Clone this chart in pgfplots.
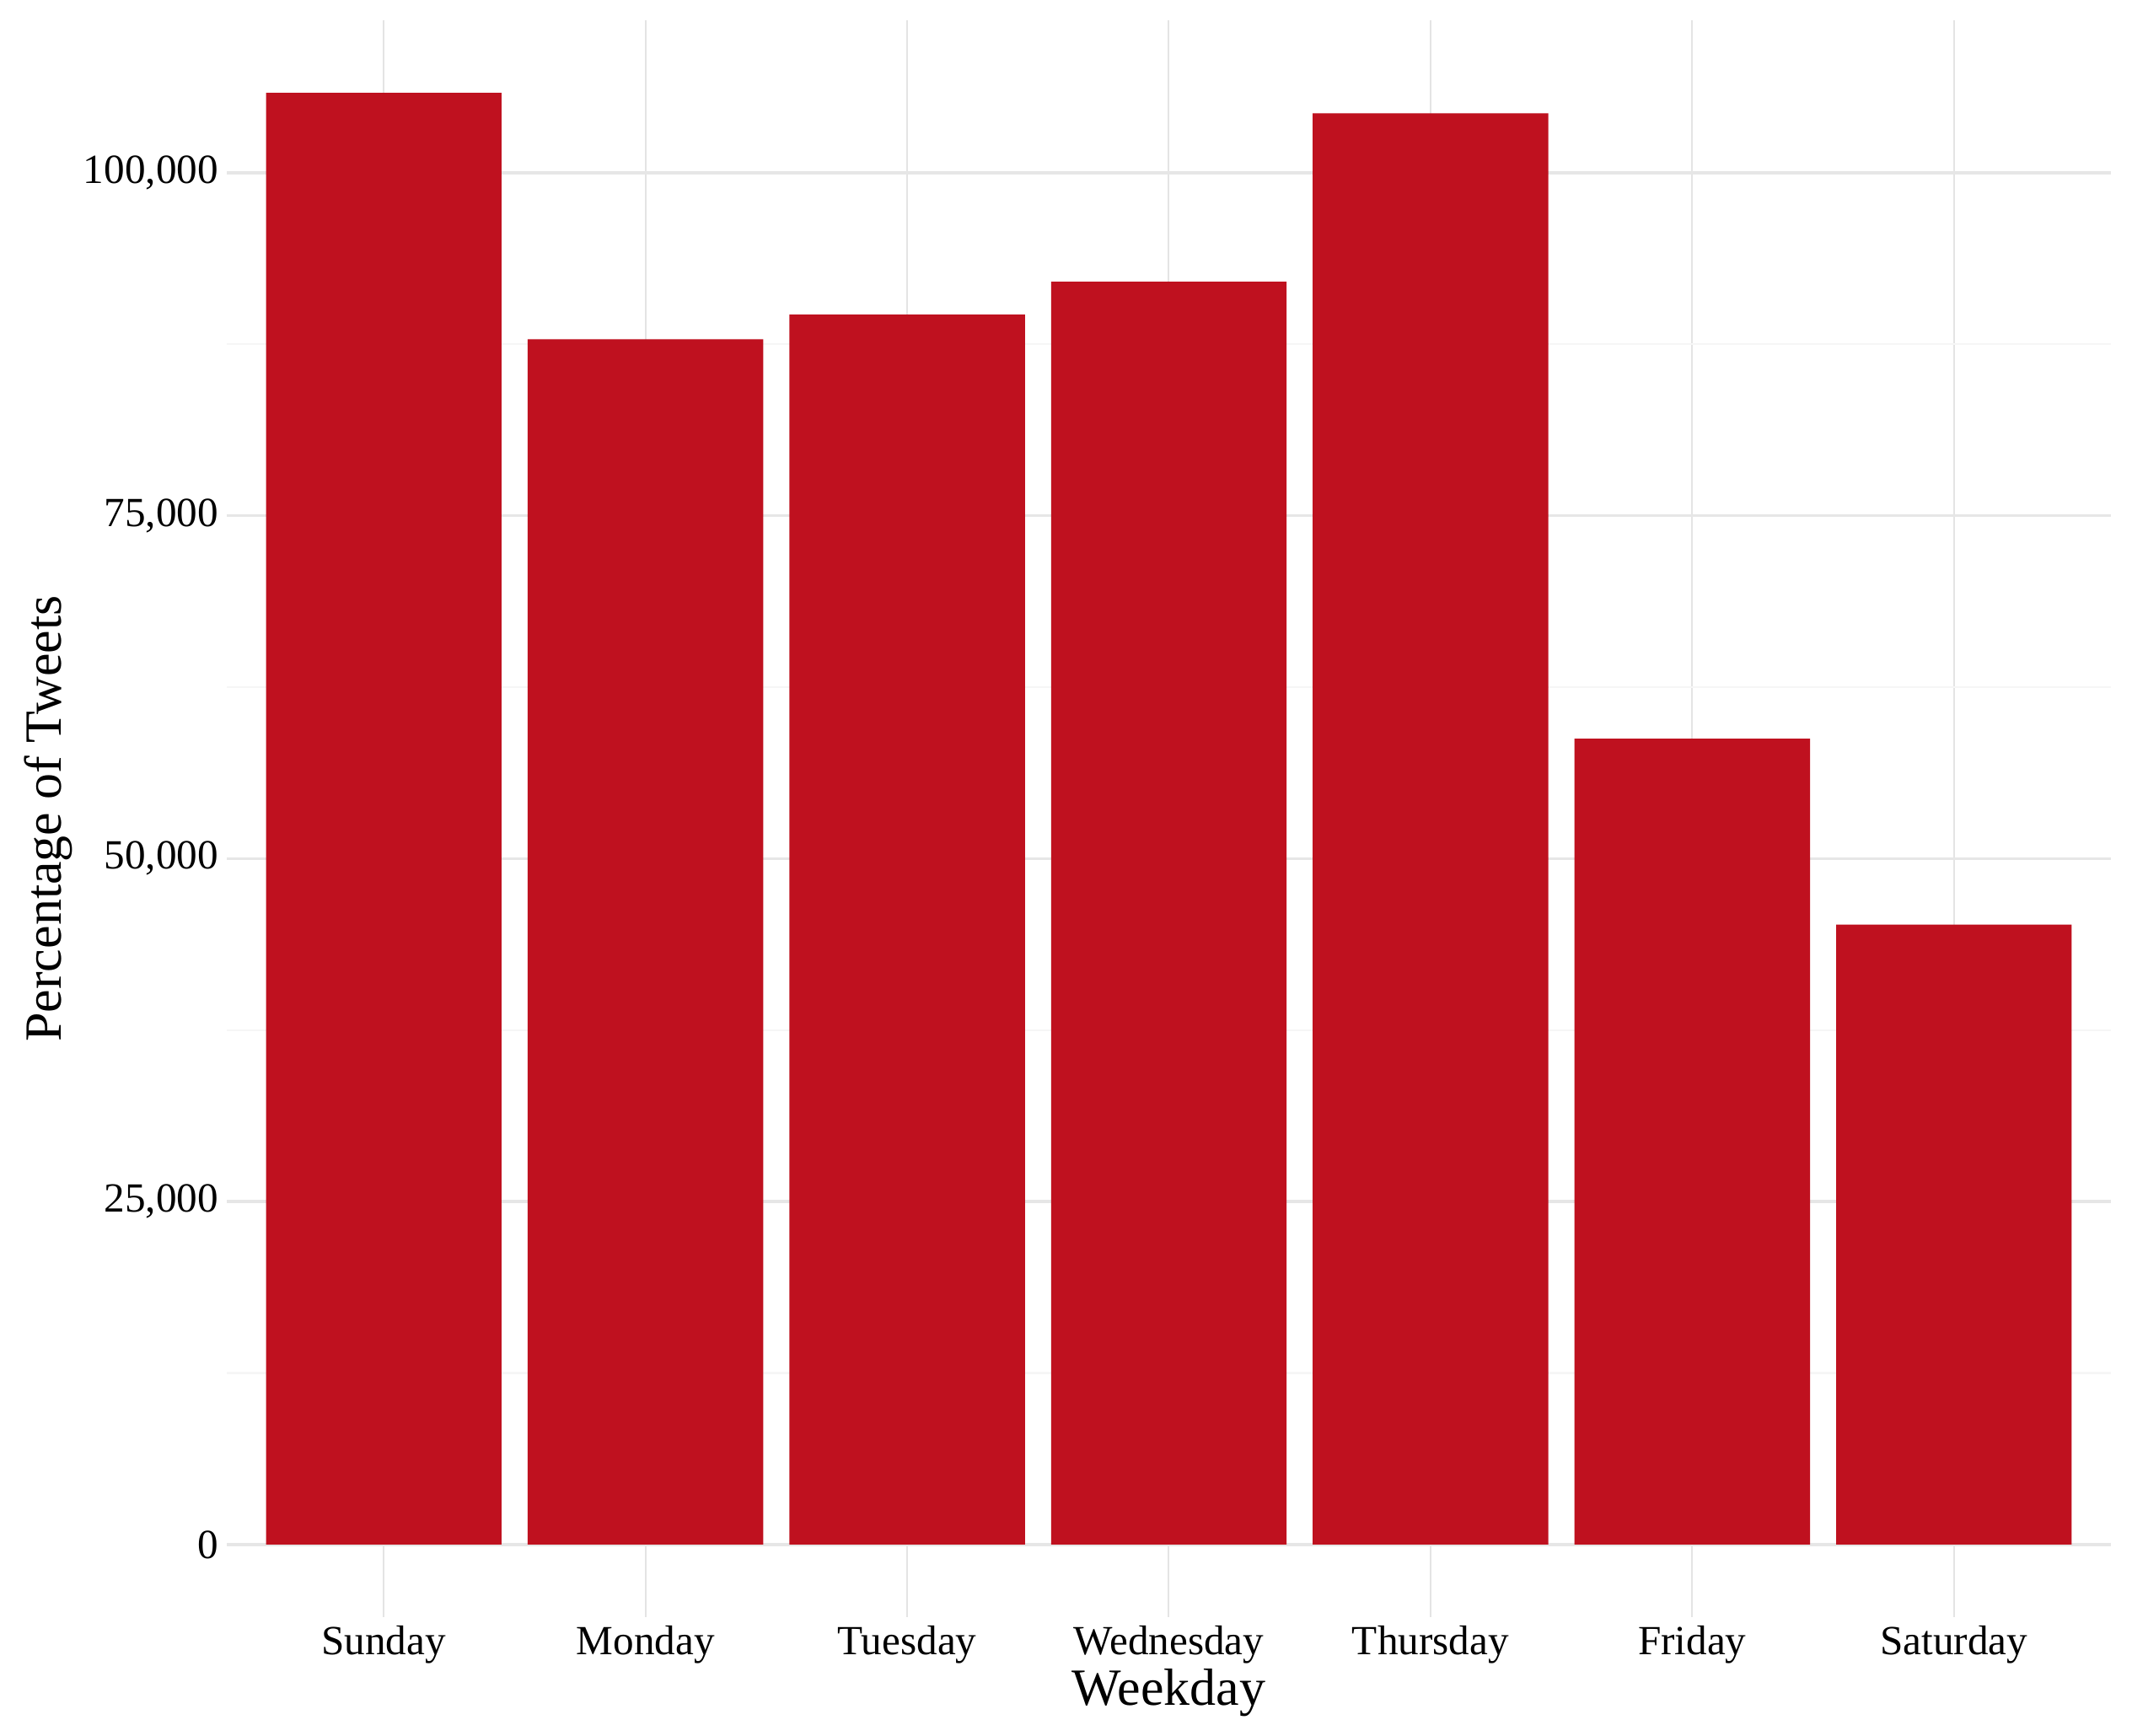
\documentclass[border=0pt]{standalone}
\usepackage{pgfplots}
\pgfplotsset{compat=1.18}
\usepackage{fontspec}
\setmainfont{Liberation Serif}
\definecolor{barred}{RGB}{191,17,31}
\definecolor{gridmaj}{RGB}{230,230,230}
\definecolor{gridmin}{RGB}{246,246,246}
\definecolor{gridx}{RGB}{228,228,228}
\begin{document}
\begin{tikzpicture}
\begin{axis}[
  scale only axis,
  width=558.75pt, height=473.5pt,
  at={(0,0)}, anchor=south west,
  axis line style={draw=none},
  xmin=0.4, xmax=7.6,
  ymin=-5291, ymax=111111,
  xtick={1,2,3,4,5,6,7},
  xticklabels={Sunday,Monday,Tuesday,Wednesday,Thursday,Friday,Saturday},
  ytick={0,25000,50000,75000,100000},
  yticklabels={0,{25,000},{50,000},{75,000},{100,000}},
  minor ytick={12500,37500,62500,87500},
  major tick length=0pt, minor tick length=0pt,
  tick style={draw=none},
  ymajorgrids, xmajorgrids, yminorgrids,
  major x grid style={draw=gridx, line width=0.5pt},
  major y grid style={draw=gridmaj, line width=0.9pt},
  minor y grid style={draw=gridmin, line width=0.6pt},
  ticklabel style={font=\fontsize{12.3}{14}\selectfont, text=black},
  xticklabel style={anchor=base, yshift=-11pt},
  yticklabel style={anchor=east, xshift=1pt},
  xlabel={Weekday},
  ylabel={Percentage of Tweets},
  label style={font=\fontsize{15.5}{18}\selectfont},
  x label style={at={(axis description cs:0.5,0)}, anchor=base, yshift=-26pt},
  y label style={at={(axis description cs:-0.0949,0.5)}, anchor=center},
  clip=false,
]
\addplot[ybar, bar width=0.9, fill=barred, draw=none] coordinates {
  (1,105820) (2,87851) (3,89658) (4,92054) (5,104320) (6,58748) (7,45186)
};
\end{axis}
\pgfresetboundingbox
\path[use as bounding box] (-67.25pt,-35pt) rectangle (565pt,479.5pt);
\end{tikzpicture}
\end{document}
